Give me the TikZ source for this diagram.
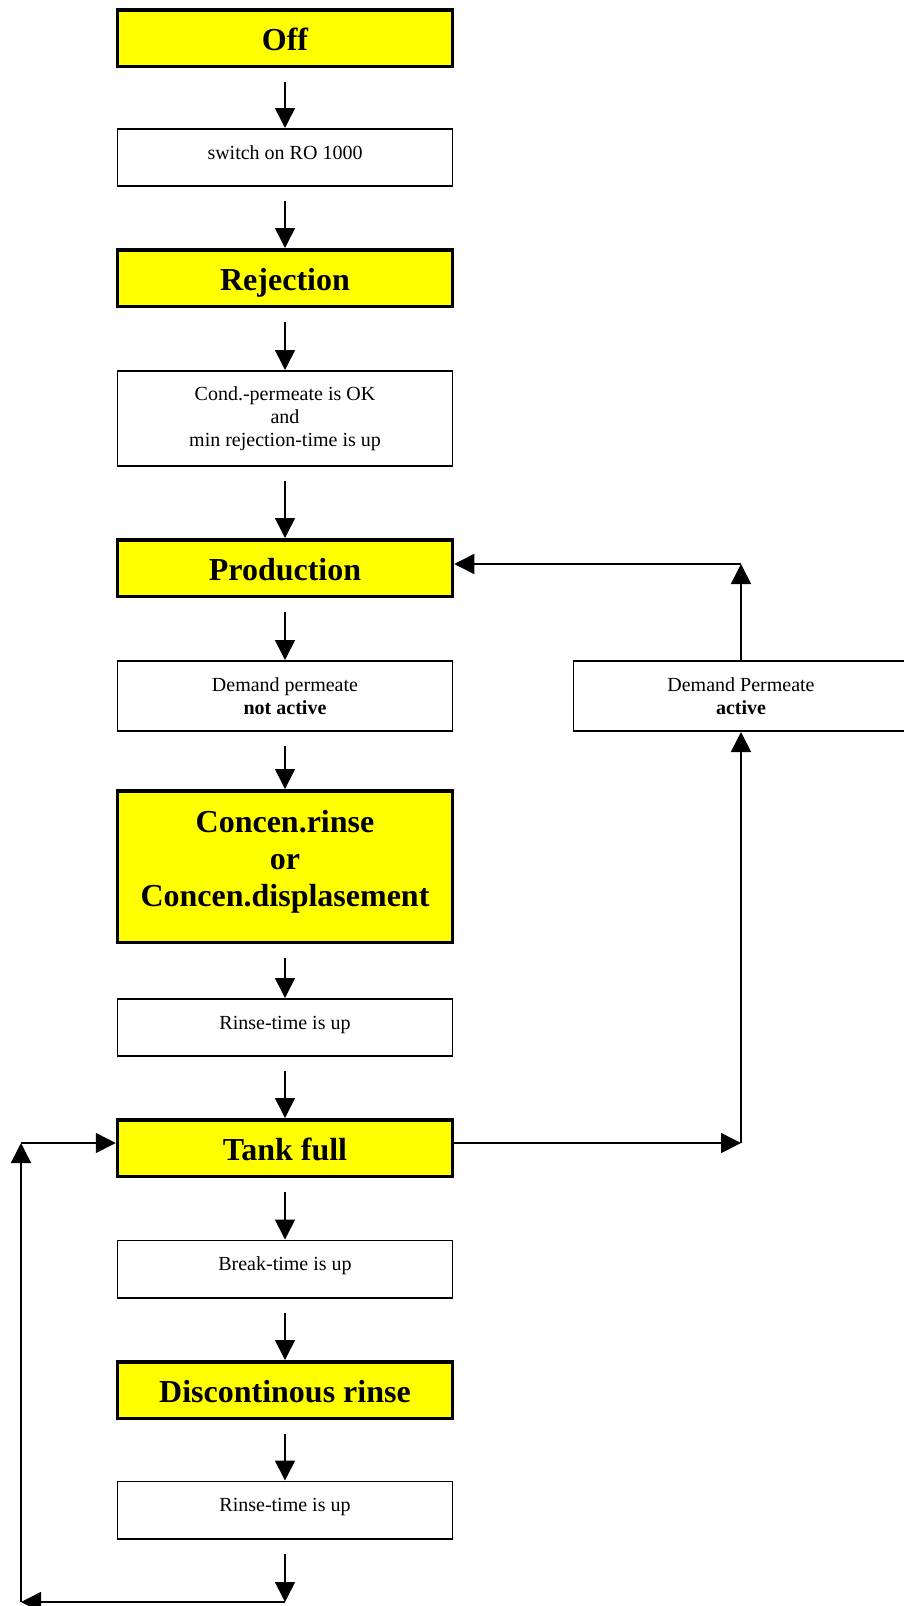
\documentclass[tikz,border=0pt]{standalone}
\usepackage{fontspec}
\setmainfont{Liberation Serif}
\usetikzlibrary{positioning,calc,arrows.meta}
\definecolor{stateyellow}{RGB}{255,255,0}
\tikzset{
  statebox/.style={rectangle,draw,line width=1.75pt,fill=stateyellow,minimum width=167.5pt,minimum height=28.25pt,inner sep=2pt,align=center,font=\fontsize{16}{18.4}\selectfont\bfseries},
  condbox/.style={rectangle,draw,line width=0.8pt,fill=white,minimum width=167.5pt,minimum height=28.7pt,inner sep=2pt,align=center,font=\fontsize{10}{11.5}\selectfont},
  bigline/.style={text height=12pt,text depth=0pt},
  smallline/.style={text height=6pt,text depth=4.5pt},
  flow/.style={line width=0.8pt,-{Triangle[length=10pt,width=10pt]}},
  gap/.style={shorten <=7pt}
}
\begin{document}
\begin{tikzpicture}[x=0.5pt,y=-0.5pt]
  \clip (0,0) rectangle (904,1606);
  % main column
  \node[statebox,bigline] (off) at (285,38) {Off};
  \node[condbox,smallline] (switchon) at (285,157.5) {switch on RO 1000};
  \node[statebox,bigline] (rejection) at (285,278) {Rejection};
  \node[condbox,minimum height=47.7pt] (condok) at (285,418.5) {Cond.-permeate is OK\\and\\min rejection-time is up};
  \node[statebox,bigline] (production) at (285,568) {Production};
  \node[condbox,minimum height=35.2pt] (notactive) at (285,696) {Demand permeate\\\textbf{not active}};
  \node[statebox,minimum height=75.75pt] (concen) at (285,866.5) {Concen.rinse\\or\\Concen.displasement\rule[-8pt]{0pt}{8pt}};
  \node[condbox,smallline] (rinseup) at (285,1027.5) {Rinse-time is up};
  \node[statebox,bigline] (tankfull) at (285,1148) {Tank full};
  \node[condbox,smallline] (breakup) at (285,1269) {Break-time is up};
  \node[statebox,bigline] (discont) at (285,1390) {Discontinous rinse};
  \node[condbox,smallline] (rinseupb) at (285,1510) {Rinse-time is up};
  % side branch
  \node[condbox,minimum height=35.2pt] (active) at (741,696) {Demand Permeate\\\textbf{active}};
  \coordinate (prodback) at (741,564);
  \coordinate (tankout) at (741,1143);
  \coordinate (loopbottom) at (285,1602);
  \coordinate (loopcorner) at (21,1602);
  \coordinate (loopup) at (21,1143);
  % arrows
  \foreach \from/\to in {off/switchon,switchon/rejection,rejection/condok,condok/production,
      production/notactive,notactive/concen,concen/rinseup,rinseup/tankfull,
      tankfull/breakup,breakup/discont,discont/rinseupb}
    \draw[flow,gap] (\from.south) -- (\to.north);
  \draw[flow,gap] (rinseupb.south) -- (loopbottom);
  \draw[flow] (loopbottom) -- (loopcorner);
  \draw[flow] (loopcorner) -- (loopup);
  \draw[flow] (loopup) -- (loopup -| tankfull.west);
  \draw[flow] (tankout -| tankfull.east) -- (tankout);
  \draw[flow] (tankout) -- (active.south);
  \draw[flow] (active.north) -- (prodback);
  \draw[flow] (prodback) -- (prodback -| production.east);
\end{tikzpicture}
\end{document}
